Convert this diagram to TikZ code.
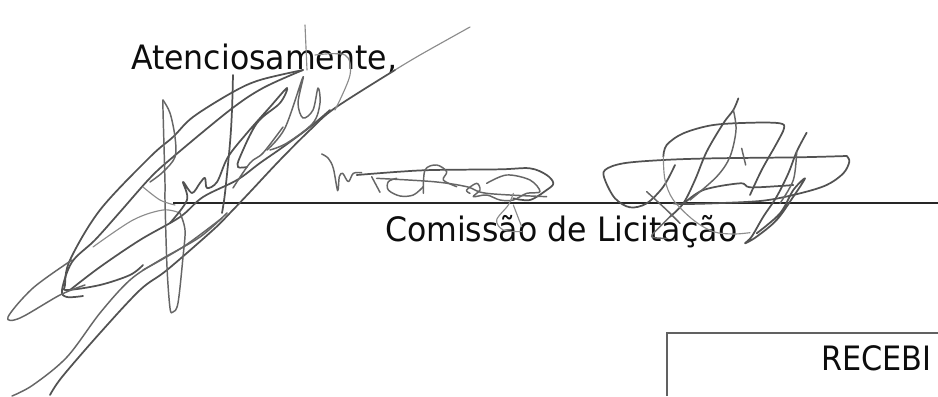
\documentclass[tikz,border=0pt]{standalone}
\usepackage{fontspec}
\setmainfont{DejaVu Sans}
\tikzset{
  doctext/.style={inner sep=0pt,outer sep=0pt,anchor=base west,text=black!95,font=\fontsize{25.2pt}{30pt}\selectfont,xscale=.94},
  inkdark/.style={draw=black!68,line width=1.3pt,line cap=round,line join=round,smooth,tension=.55},
  inkmid/.style={draw=black!60,line width=1.1pt,line cap=round,line join=round,smooth,tension=.55},
  inkthin/.style={draw=black!45,line width=.85pt,line cap=round,line join=round,smooth,tension=.55},
  rulestroke/.style={draw=black!85,line width=1.1pt},
  boxstroke/.style={draw=black!62,line width=1pt},
}
\begin{document}
\begin{tikzpicture}[x=.75pt,y=-.75pt]
\useasboundingbox (0,0) rectangle (938,396);
\fill[white] (0,0) rectangle (938,396);
% rule and box
\coordinate (ruleL) at (173,203);
\coordinate (ruleR) at (938,203);
\draw[rulestroke] (ruleL) -- (ruleR);
\coordinate (boxA) at (667,396);
\coordinate (boxB) at (667,333);
\coordinate (boxC) at (938,333);
\draw[boxstroke] (boxA) -- (boxB) -- (boxC);
% texts
\node[doctext] (greet) at (131,69) {Atenciosamente,};
\node[doctext] (comm) at (385,241) {Comissão de Licitação};
\node[doctext,xscale=.96] (rec) at (821,370) {RECEBI};
% first signature
\draw[inkthin] plot coordinates {(470,27) (420,55) (395,70)};
\draw[inkdark] plot coordinates {(395,70) (335,108) (310,130) (280,160) (250,192) (230,213) (213,230) (167,270) (140,290) (100,333) (62,377) (50,395)};
\draw[inkmid] plot coordinates {(12,396) (33,385) (67,357) (100,313) (130,280) (160,260) (200,237) (227,213)};
\draw[inkmid] plot coordinates {(143,270) (183,247) (222,218)};
\draw[inkdark] plot coordinates {(303,70) (260,80) (233,92) (193,117) (173,137) (150,157) (100,210) (70,260) (65,285) (67,290) (100,285) (130,275) (143,265)};
\draw[inkdark] plot coordinates {(303,70) (263,88) (230,110) (173,157) (150,178) (120,212) (95,240) (72,262) (62,290) (67,297) (83,296)};
\draw[inkdark] plot coordinates {(70,290) (100,267) (140,240) (180,217) (203,197) (237,180) (260,163) (283,147) (310,127) (330,110)};
\draw[inkmid] plot coordinates {(72,260) (33,288) (8,317) (20,318) (60,295) (85,285)};
\draw[inkthin] plot coordinates {(93,247) (133,220) (163,210) (180,213)};
\draw[inkmid] plot coordinates {(163,100) (163,110) (165,183) (165,200) (167,267) (170,308) (173,312) (178,303) (183,257) (185,230) (180,213)};
\draw[inkmid] plot coordinates {(163,100) (170,113) (175,137) (175,157) (163,172) (150,182)};
\draw[inkthin] plot coordinates {(143,187) (160,200) (175,205)};
\draw[inkdark] plot coordinates {(233,75) (232,110) (230,143) (225,193) (222,213)};
\draw[inkdark] plot coordinates {(170,223) (187,200) (183,182) (192,193) (200,183) (205,178) (207,188) (217,182) (228,157) (247,133) (270,107) (287,88) (280,103) (257,123) (240,157) (238,167) (247,167)};
\draw[inkmid] plot coordinates {(233,188) (250,163) (263,153) (283,127)};
\draw[inkmid] plot coordinates {(267,150) (285,128) (303,77) (298,103) (303,118) (313,110) (318,88) (320,103) (313,123) (287,143) (270,150)};
\draw[inkthin] plot coordinates {(305,25) (307,70)};
\draw[inkthin] plot coordinates {(315,55) (345,55) (350,75) (335,110)};
% second signature
\begin{scope}[shift={(300,80)},scale=.33333]
\draw[inkmid] plot coordinates {(65,222) (85,235) (100,265) (113,332) (118,290) (128,280) (145,305) (160,280) (185,278)};
\draw[inkdark] plot coordinates {(170,285) (300,275) (400,270) (600,268) (690,265) (740,285) (760,310) (740,330) (690,360) (640,355)};
\draw[inkmid] plot coordinates {(215,290) (240,337)};
\draw[inkmid] plot coordinates {(290,295) (265,305) (265,330) (300,348) (340,345) (370,320)};
\draw[inkmid] plot coordinates {(230,295) (400,305) (500,320) (560,340) (740,350)};
\draw[inkmid] plot coordinates {(370,340) (375,270) (410,255) (440,275) (430,300) (470,320)};
\draw[inkmid] plot coordinates {(510,340) (500,330) (530,310) (540,330) (520,350) (560,345) (600,360) (640,360) (680,340) (720,335) (690,300) (620,285) (560,310)};
\draw[inkthin] plot coordinates {(640,340) (625,375) (590,420) (610,450) (665,455)};
\draw[inkthin] plot coordinates {(640,375) (665,440)};
\end{scope}
% third signature
\begin{scope}[shift={(580,80)},scale=.33333]
\draw[inkdark] plot coordinates {(475,55) (460,90) (430,130) (380,215) (345,300) (310,370) (270,410)};
\draw[inkdark] plot coordinates {(250,230) (260,195) (310,160) (400,135) (520,128) (600,130) (612,145) (590,190) (545,270) (510,345)};
\draw[inkdark] plot coordinates {(800,228) (650,232) (400,235) (250,240) (130,250) (75,270) (75,300) (105,355) (150,382) (200,370) (250,320) (285,255)};
\draw[inkdark] plot coordinates {(800,228) (808,245) (790,280) (740,315) (660,340) (550,362) (400,370) (310,372) (280,370)};
\draw[inkdark] plot coordinates {(310,372) (370,330) (480,310) (510,322) (600,318) (640,315)};
\draw[inkmid] plot coordinates {(460,90) (468,150) (450,230) (410,290) (330,360)};
\draw[inkmid] plot coordinates {(485,205) (497,255)};
\draw[inkdark] plot coordinates {(680,158) (650,215) (625,280) (590,350) (550,410) (515,470) (495,490) (530,470) (590,420) (640,350) (675,295) (640,330) (600,400) (530,460)};
\draw[inkmid] plot coordinates {(650,215) (640,300) (600,370)};
\draw[inkthin] plot coordinates {(250,230) (255,300) (280,360) (340,420) (400,455) (460,462) (510,458)};
\draw[inkmid] plot coordinates {(200,335) (260,390) (300,430)};
\draw[inkmid] plot coordinates {(270,410) (240,440) (215,470) (260,475)};
\end{scope}
\end{tikzpicture}
\end{document}
